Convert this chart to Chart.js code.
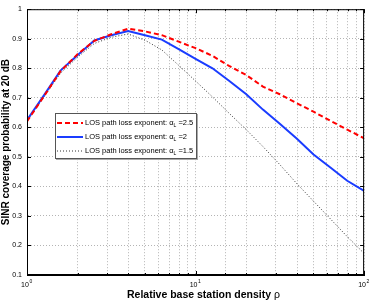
<!DOCTYPE html>
<html>
<head>
<meta charset="utf-8">
<script src="https://cdn.jsdelivr.net/npm/chart.js@4/dist/chart.umd.min.js"></script>
<style>
  html, body { margin: 0; padding: 0; background: #fff; }
  #wrap { position: relative; width: 374px; height: 302px; }
  #legend {
    position: absolute; left: 55px; top: 113px; width: 140px; height: 44px;
    background: #fff; border: 1px solid #555; box-shadow: 1px 1px 0 #aaa;
    font-family: "Liberation Sans", Arial, sans-serif; font-size: 7.5px; color: #000;
  }
  .row { position: absolute; left: 1px; height: 10px; white-space: nowrap; }
  .row svg { position: absolute; left: 0; top: 3px; }
  .row span { position: absolute; left: 28px; top: 0; line-height: 10px; }
  .row sub { font-size: 5px; vertical-align: -2px; }
  #xlabel {
    position: absolute; left: 0; width: 407px; top: 288px; text-align: center;
    font-family: "Liberation Sans", Arial, sans-serif; font-size: 10.5px; line-height: 12px;
    white-space: nowrap;
  }
  #xlabel b { font-weight: bold; }
</style>
</head>
<body>
<div id="wrap">
  <canvas id="coverageChart" width="374" height="302"></canvas>
  <div id="legend"></div>
  <div id="xlabel"><b>Relative base station density</b> &rho;</div>
</div>
<script>
// relative base station density rho (log spaced)
const density = [1, 1.26, 1.58, 2, 2.51, 3.16, 3.98, 5.01, 6.31, 7.94, 10,
  12.6, 15.8, 20, 25.1, 31.6, 39.8, 50.1, 63.1, 79.4, 100];

// SINR coverage probability at 20 dB
const cov25 = [0.62, 0.705, 0.79, 0.848, 0.893, 0.915, 0.934, 0.925, 0.912, 0.89, 0.868,
  0.842, 0.808, 0.777, 0.738, 0.712, 0.682, 0.653, 0.622, 0.592, 0.563];
const cov20 = [0.625, 0.708, 0.792, 0.845, 0.894, 0.912, 0.926, 0.912, 0.897, 0.865, 0.832,
  0.8, 0.758, 0.712, 0.66, 0.612, 0.562, 0.508, 0.464, 0.419, 0.385];
const cov15 = [0.62, 0.703, 0.783, 0.838, 0.884, 0.905, 0.916, 0.895, 0.862, 0.81, 0.757,
  0.703, 0.648, 0.592, 0.535, 0.474, 0.41, 0.35, 0.29, 0.23, 0.173];

const alphas = ["2.5", "2", "1.5"];
const yTicks = [0.1, 0.2, 0.3, 0.4, 0.5, 0.6, 0.7, 0.8, 0.9, 1];
const xExponents = { 1: "0", 10: "1", 100: "2" };

function toPoints(values) {
  return density.map((x, i) => ({ x: x, y: values[i] }));
}

// black box round the axes with small inward ticks, like matlab
const boxPlugin = {
  id: "axesBox",
  afterDraw(chart) {
    const { ctx, chartArea: a, scales } = chart;
    ctx.save();
    ctx.strokeStyle = "#000";
    ctx.lineWidth = 1;
    ctx.strokeRect(a.left + 0.5, a.top + 0.5, a.right - a.left - 1, a.bottom - a.top - 1);
    ctx.beginPath();
    scales.y.ticks.forEach(t => {
      const y = Math.round(scales.y.getPixelForValue(t.value)) + 0.5;
      ctx.moveTo(a.left, y); ctx.lineTo(a.left + 4, y);
      ctx.moveTo(a.right, y); ctx.lineTo(a.right - 4, y);
    });
    scales.x.ticks.forEach(t => {
      const x = Math.round(scales.x.getPixelForValue(t.value)) + 0.5;
      const len = xExponents[t.value] ? 4 : 2;
      ctx.moveTo(x, a.bottom); ctx.lineTo(x, a.bottom - len);
      ctx.moveTo(x, a.top); ctx.lineTo(x, a.top + len);
    });
    ctx.stroke();

    // exponents of the 10^n tick labels
    ctx.fillStyle = "#000";
    ctx.font = "5px 'Liberation Sans'";
    ctx.textBaseline = "middle";
    scales.x.ticks.forEach(t => {
      if (!xExponents[t.value]) return;
      const x = scales.x.getPixelForValue(t.value);
      ctx.fillText(xExponents[t.value], x + 2.5, a.bottom + 7);
    });
    ctx.restore();
  }
};

const gridStyle = { color: "#b4b4b4", lineWidth: 1, drawTicks: false };
const borderStyle = { display: true, color: "#000", width: 1, dash: [1, 2] };

const chart = new Chart(document.getElementById("coverageChart"), {
  type: "line",
  data: {
    datasets: [
      { label: "LOS path loss exponent: \u03b1_L =" + alphas[0], data: toPoints(cov25),
        borderColor: "#ff0000", borderWidth: 2, borderDash: [5, 3] },
      { label: "LOS path loss exponent: \u03b1_L =" + alphas[1], data: toPoints(cov20),
        borderColor: "#1a3cff", borderWidth: 2, borderDash: [] },
      { label: "LOS path loss exponent: \u03b1_L =" + alphas[2], data: toPoints(cov15),
        borderColor: "#333333", borderWidth: 1, borderDash: [1, 2] }
    ]
  },
  options: {
    responsive: false,
    animation: false,
    elements: { point: { radius: 0 }, line: { tension: 0, fill: false } },
    layout: { padding: { top: 9, right: 9, left: 0, bottom: 0 } },
    plugins: { legend: { display: false }, tooltip: { enabled: false } },
    scales: {
      x: {
        type: "logarithmic", min: 1, max: 100,
        grid: gridStyle, border: borderStyle,
        afterFit: scale => { scale.height = 27; },
        ticks: {
          autoSkip: false, maxRotation: 0, padding: 6, labelOffset: -2, color: "#000",
          font: { family: "Liberation Sans", size: 7 },
          callback: v => (xExponents[v] ? "10" : "")
        },
        title: { display: false }
      },
      y: {
        min: 0.1, max: 1,
        grid: gridStyle, border: borderStyle,
        afterFit: scale => { scale.width = 27; },
        afterBuildTicks: scale => { scale.ticks = yTicks.map(v => ({ value: v })); },
        ticks: {
          padding: 5, color: "#000",
          font: { family: "Liberation Sans", size: 7 },
          callback: v => (v === 1 ? "1" : v.toFixed(1))
        },
        title: {
          display: true, text: "SINR coverage probability at 20 dB", color: "#000",
          font: { family: "Liberation Sans", size: 10, weight: "bold" },
          padding: { top: 0, bottom: 0 }
        }
      }
    }
  },
  plugins: [boxPlugin]
});

// html legend built from the datasets
function buildLegend(chart) {
  const box = document.getElementById("legend");
  box.innerHTML = "";
  chart.data.datasets.forEach((ds, i) => {
    const row = document.createElement("div");
    row.className = "row";
    row.style.top = (4 + i * 14) + "px";
    const dash = ds.borderDash.length ? ds.borderDash.join(",") : "none";
    row.innerHTML =
      `<svg width="26" height="4"><line x1="0" y1="2" x2="26" y2="2" stroke="${ds.borderColor}"
        stroke-width="${ds.borderWidth}" stroke-dasharray="${dash}"/></svg>` +
      `<span>${ds.label.replace("_L", "<sub>L</sub>")}</span>`;
    box.appendChild(row);
  });
}
buildLegend(chart);
</script>
</body>
</html>
